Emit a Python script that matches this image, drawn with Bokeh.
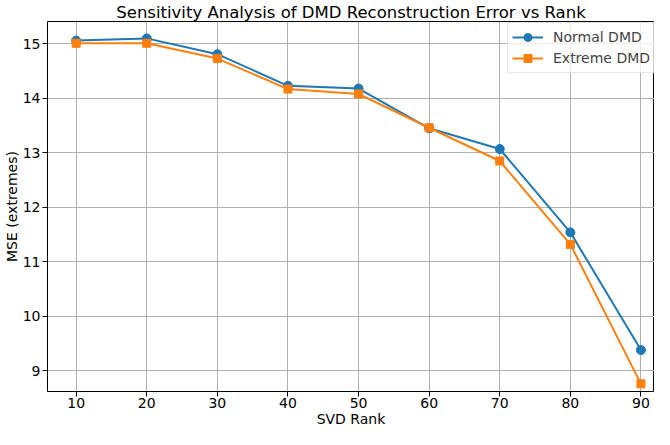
from bokeh.plotting import figure
from bokeh.models import Range1d, FixedTicker, Legend, LegendItem
from bokeh.embed import file_html
from bokeh.resources import INLINE

ranks = [10, 20, 30, 40, 50, 60, 70, 80, 90]
normal_dmd = [15.06, 15.10, 14.81, 14.23, 14.18, 13.45, 13.07, 11.54, 9.38]
extreme_dmd = [15.01, 15.01, 14.73, 14.17, 14.08, 13.46, 12.85, 11.32, 8.76]
x_ticks = [10, 20, 30, 40, 50, 60, 70, 80, 90]
y_ticks = [9, 10, 11, 12, 13, 14, 15]

FONT = "DejaVu Sans"
BLUE = "#1f77b4"
ORANGE = "#ff7f0e"

p = figure(width=654, height=429, output_backend="svg", toolbar_location=None,
           x_range=Range1d(5.94, 91.92), y_range=Range1d(8.62, 15.41),
           min_border_left=42, min_border_right=0, min_border_top=12, min_border_bottom=32)

p.title.text = "Sensitivity Analysis of DMD Reconstruction Error vs Rank"
p.title.align = "center"
p.title.text_font = FONT
p.title.text_font_size = "16.5px"
p.title.text_font_style = "normal"
p.title.text_color = "black"
p.title.standoff = 0

p.outline_line_color = "black"
p.outline_line_width = 1

for ax in (p.xaxis, p.yaxis):
    ax.axis_line_color = None
    ax.major_tick_line_color = "black"
    ax.major_tick_out = 5
    ax.major_tick_in = 0
    ax.minor_tick_line_color = None
    ax.major_label_text_font = FONT
    ax.major_label_text_font_size = "14px"
    ax.major_label_text_color = "black"
    ax.axis_label_text_font = FONT
    ax.axis_label_text_font_size = "14px"
    ax.axis_label_text_font_style = "normal"
    ax.axis_label_text_color = "black"

p.xaxis.ticker = FixedTicker(ticks=x_ticks)
p.yaxis.ticker = FixedTicker(ticks=y_ticks)
p.xaxis.axis_label = "SVD Rank"
p.yaxis.axis_label = "MSE (extremes)"
p.xaxis.axis_label_standoff = 0
p.yaxis.axis_label_standoff = 0
p.xaxis.major_label_standoff = 1
p.yaxis.major_label_standoff = 2

p.xgrid.ticker = FixedTicker(ticks=x_ticks)
p.ygrid.ticker = FixedTicker(ticks=y_ticks)
p.grid.grid_line_color = "#b0b0b0"
p.grid.grid_line_width = 1

l1 = p.line(ranks, normal_dmd, line_color=BLUE, line_width=2)
m1 = p.scatter(ranks, normal_dmd, marker="circle", size=9, fill_color=BLUE, line_color=BLUE)
l2 = p.line(ranks, extreme_dmd, line_color=ORANGE, line_width=2)
m2 = p.scatter(ranks, extreme_dmd, marker="square", size=8, fill_color=ORANGE, line_color=ORANGE)

legend = Legend(items=[LegendItem(label="Normal DMD", renderers=[l1, m1]),
                       LegendItem(label="Extreme DMD", renderers=[l2, m2])],
                location=(460, 318))
legend.label_text_font = FONT
legend.label_text_font_size = "14px"
legend.border_line_color = "#cccccc"
legend.border_line_width = 1
legend.background_fill_alpha = 0.8
legend.margin = 0
legend.padding = 4
legend.spacing = 1
legend.label_height = 20
legend.glyph_height = 20
legend.glyph_width = 31
legend.label_standoff = 10
p.add_layout(legend)

open("out.html", "w").write(file_html(p, INLINE))
